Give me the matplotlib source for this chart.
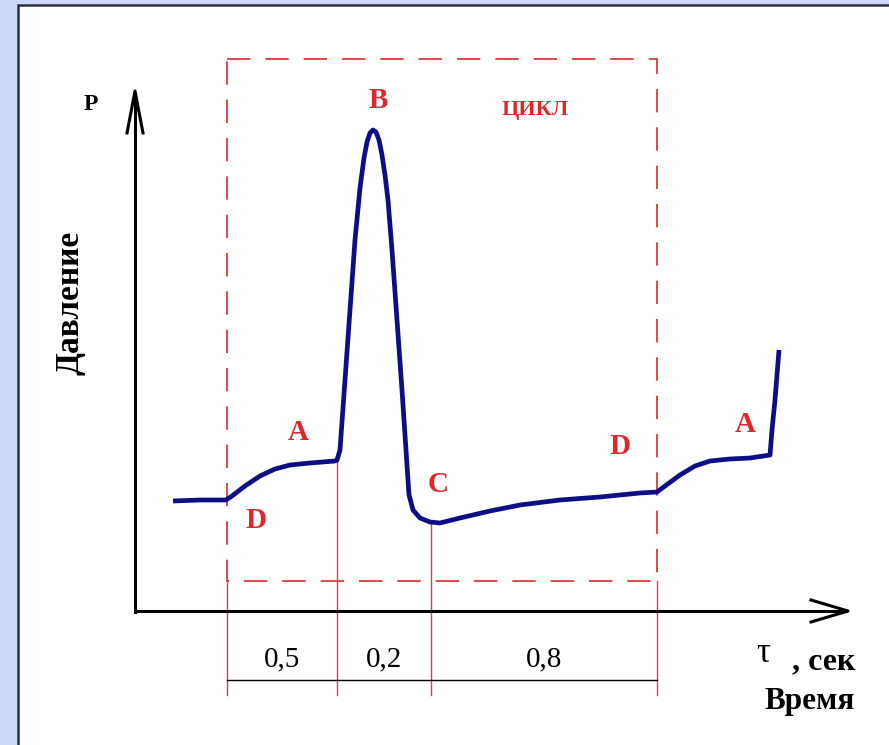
import matplotlib
matplotlib.use("Agg")
import matplotlib.pyplot as plt
from matplotlib.patches import Rectangle

# Pressure curve over one working cycle (diagram units, y grows downward)
curve_x = [173, 200, 226, 232, 245, 260, 275, 290, 310, 335, 337, 340, 345, 350,
           355, 360, 364, 367, 370, 373, 376, 379, 382, 385, 388, 392, 397, 402,
           406, 409, 413, 420, 430, 440, 460, 490, 520, 560, 600, 640, 657, 665,
           680, 695, 710, 730, 750, 770, 772, 775, 779]
curve_y = [501, 500, 500, 496, 486, 476, 469, 465, 463, 461, 460, 450, 380, 310,
           240, 188, 158, 142, 133, 130, 132, 140, 155, 175, 200, 250, 320, 390,
           450, 495, 510, 518, 522, 523, 518, 511, 505, 500, 497, 493, 492, 486,
           475, 466, 461, 459, 458, 455, 430, 400, 350]

# Phase boundaries on the time axis and the phase durations between them
phase_x = [227, 337, 431, 657]
phase_top = [581, 461, 522, 581]
phase_durations = ["0,5", "0,2", "0,8"]

# Point labels on the curve
point_labels = ["B", "A", "D", "C", "D", "A"]
point_pos = [(378, 100), (298, 432), (256, 521), (438, 485), (620, 446), (745, 425)]

RED = "#e0262a"
RED_THIN = "#d4454a"
NAVY = "#0d0d86"
SERIF = "Liberation Serif"

fig = plt.figure(figsize=(8.89, 7.45), dpi=100, facecolor="#cdd8fb")
ax = fig.add_axes([0, 0, 1, 1])
ax.set_xlim(0, 889)
ax.set_ylim(745, 0)
ax.axis("off")

# White panel with dark frame
ax.add_patch(Rectangle((18, 5), 900, 800, facecolor="white",
                       edgecolor="#2b303a", linewidth=1.8, zorder=0))

# Cycle frame (dashed)
ax.add_patch(Rectangle((phase_x[0], 59), phase_x[-1] - phase_x[0], 581 - 59,
                       fill=False, edgecolor=RED, linewidth=1.2,
                       linestyle=(0, (14, 9)), zorder=2))

# Phase boundary lines down to the dimension line
for x, top in zip(phase_x, phase_top):
    ax.plot([x, x], [top, 695], color=RED_THIN, linewidth=1.0, zorder=2)

# Dimension line and phase durations
ax.plot([phase_x[0], phase_x[-1]], [680, 680], color="black", linewidth=1.0, zorder=3)
for x0, x1, lab in zip(phase_x[:-1], phase_x[1:], phase_durations):
    ax.text((x0 + x1) / 2, 659, lab, ha="center", va="center",
            fontsize=21, family=SERIF, color="black")

# Coordinate axes with arrowheads
ax.plot([135, 135], [612, 94], color="black", linewidth=2.2, zorder=3)
ax.plot([127, 135, 143], [133, 91, 133], color="black", linewidth=2.2, zorder=3)
ax.plot([135, 846], [611, 611], color="black", linewidth=2.2, zorder=3)
ax.plot([811, 848, 811], [600, 611, 622], color="black", linewidth=2.2, zorder=3)

# Pressure curve
ax.plot(curve_x, curve_y, color=NAVY, linewidth=3.4, solid_joinstyle="round",
        solid_capstyle="butt", zorder=4)

# Labels
for lab, (x, y) in zip(point_labels, point_pos):
    ax.text(x, y, lab, ha="center", va="center", fontsize=21,
            family=SERIF, fontweight="bold", color=RED)
ax.text(535, 110, "ЦИКЛ", ha="center", va="center", fontsize=16,
        family=SERIF, fontweight="bold", color=RED)

ax.text(91, 104, "P", ha="center", va="center", fontsize=17,
        family=SERIF, fontweight="bold", color="black")
ax.text(70, 303, "Давление", ha="center", va="center", rotation=90,
        fontsize=24, family=SERIF, fontweight="bold", color="black")
ax.text(763, 654, "τ", ha="center", va="center", fontsize=25,
        family=SERIF, color="black")
ax.text(824, 662, ", сек", ha="center", va="center", fontsize=23,
        family=SERIF, fontweight="bold", color="black")
ax.text(810, 702, "Время", ha="center", va="center", fontsize=22.5,
        family=SERIF, fontweight="bold", color="black")

fig.savefig("out.png", dpi=100, facecolor=fig.get_facecolor())
